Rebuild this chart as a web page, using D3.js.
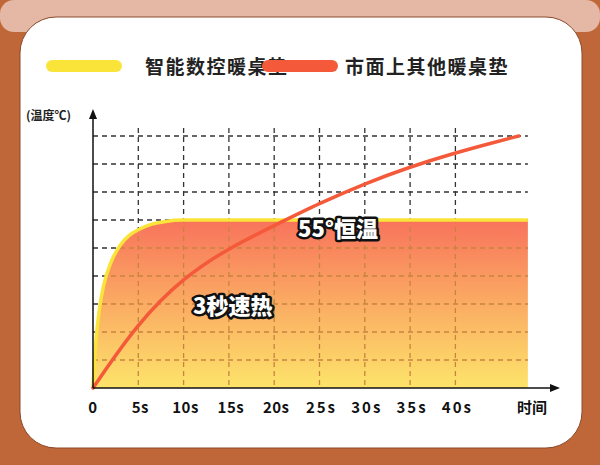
<!DOCTYPE html>
<html><head><meta charset="utf-8">
<script src="https://cdn.jsdelivr.net/npm/d3@7"></script>
<style>body{margin:0;background:#c0673a}svg{display:block}text{font-family:"Noto Sans CJK SC",sans-serif}</style>
</head><body><svg id="c" width="600" height="465"></svg>
<script>
const legendNames = ["智能数控暖桌垫", "市面上其他暖桌垫"];
const xTicks = [0, 5, 10, 15, 20, 25, 30, 35, 40];
const xTickLabels = ["0", "5s", "10s", "15s", "20s", "25s", "30s", "35s", "40s"];
const yGrid = [1, 2, 3, 4, 5, 6, 7, 8, 9];
// smart mat: fast rise to plateau
const smartT = [0, 0.3, 0.7, 1.2, 2, 3, 4, 5, 6.5, 8, 10, 48];
const smartV = [0, 1.6, 2.8, 3.7, 4.5, 5.1, 5.45, 5.65, 5.85, 5.95, 6, 6];
// other mats: slow rise
const otherT = [0, 5, 10, 15, 20, 25, 30, 35, 40, 44, 47];
const otherV = [0, 2.35, 3.95, 5.0, 5.8, 6.6, 7.3, 7.9, 8.4, 8.75, 9.0];

const svg = d3.select("#c");
const defs = svg.append("defs");

// background
svg.append("rect").attr("width", 600).attr("height", 465).attr("fill", "#c0673a");
svg.append("rect").attr("x", 0).attr("y", 0).attr("width", 600).attr("height", 32).attr("rx", 14).attr("fill", "#e5b8a5");
svg.append("rect").attr("x", 20).attr("y", 17).attr("width", 562).attr("height", 431).attr("rx", 36)
  .attr("fill", "#fff").attr("stroke", "#8a4a2a").attr("stroke-width", 1);

// legend
const colors = ["#fbe43a", "#f45a3a"];
[[52, 145], [268, 345]].forEach(([x0, tx], i) => {
  svg.append("line").attr("x1", x0).attr("x2", x0 + 64).attr("y1", 66).attr("y2", 66)
    .attr("stroke", colors[i]).attr("stroke-width", 12).attr("stroke-linecap", "round");
  svg.append("text").attr("x", tx).attr("y", 74).attr("font-size", 19).attr("font-weight", 700)
    .attr("fill", "#222").attr("letter-spacing", 1.5).text(legendNames[i]);
});

const x = d3.scaleLinear().domain([0, 5]).range([93, 138.3]);
const y = d3.scaleLinear().domain([0, 1]).range([388, 360]);
const gridTop = 128, plotRight = x(48);

const gradId = "fillGrad";
const g = defs.append("linearGradient").attr("id", gradId).attr("x1", 0).attr("y1", 0).attr("x2", 0).attr("y2", 1);
g.append("stop").attr("offset", "0%").attr("stop-color", "#f8735c");
g.append("stop").attr("offset", "100%").attr("stop-color", "#fde46a");

const smart = smartT.map((t, i) => [t, smartV[i]]);
const other = otherT.map((t, i) => [t, otherV[i]]);
const area = d3.area().x(d => x(d[0])).y0(y(0)).y1(d => y(d[1])).curve(d3.curveMonotoneX);
const line = d3.line().x(d => x(d[0])).y(d => y(d[1])).curve(d3.curveMonotoneX);
const line2 = d3.line().x(d => x(d[0])).y(d => y(d[1])).curve(d3.curveBasis);

defs.append("clipPath").attr("id", "ac").append("path").attr("d", area(smart));

function grid(sel, color) {
  xTicks.slice(1).forEach(t => sel.append("line").attr("x1", x(t)).attr("x2", x(t))
    .attr("y1", gridTop).attr("y2", y(0)).attr("stroke", color).attr("stroke-width", 1.3).attr("stroke-dasharray", "5,4"));
  yGrid.forEach(v => sel.append("line").attr("x1", x(0)).attr("x2", plotRight)
    .attr("y1", y(v)).attr("y2", y(v)).attr("stroke", color).attr("stroke-width", 1.3).attr("stroke-dasharray", "5,4"));
}
grid(svg.append("g"), "#333");
svg.append("path").attr("d", area(smart)).attr("fill", `url(#${gradId})`);
grid(svg.append("g").attr("clip-path", "url(#ac)"), "#c8843f");

svg.append("path").attr("d", line(smart)).attr("fill", "none").attr("stroke", colors[0]).attr("stroke-width", 3.5);
svg.append("path").attr("d", line2(other)).attr("fill", "none").attr("stroke", colors[1]).attr("stroke-width", 3.5).attr("stroke-linecap", "round");

// axes
svg.append("line").attr("x1", x(0)).attr("x2", 553).attr("y1", y(0)).attr("y2", y(0)).attr("stroke", "#111").attr("stroke-width", 1.5);
svg.append("path").attr("d", `M560,${y(0)} L550,${y(0) - 4} L550,${y(0) + 4}Z`).attr("fill", "#111");
svg.append("line").attr("x1", x(0)).attr("x2", x(0)).attr("y1", y(0)).attr("y2", 116).attr("stroke", "#111").attr("stroke-width", 1.5);
svg.append("path").attr("d", `M${x(0)},109 L${x(0) - 4},119 L${x(0) + 4},119Z`).attr("fill", "#111");
svg.append("text").attr("x", 26).attr("y", 120).attr("font-size", 12).attr("font-weight", 700).attr("fill", "#222").text("(温度℃)");

xTickLabels.forEach((s, i) => svg.append("text").attr("x", x(xTicks[i]) + (i ? 2 : 0)).attr("y", 413)
  .attr("text-anchor", "middle").attr("font-size", 15).attr("font-weight", 700).attr("fill", "#111")
  .attr("letter-spacing", i > 4 ? 2 : 0.5).text(s));
svg.append("text").attr("x", 532).attr("y", 413).attr("text-anchor", "middle").attr("font-size", 15)
  .attr("font-weight", 700).attr("fill", "#111").text("时间");

// annotations
function note(tx, ty, s) {
  svg.append("text").attr("x", tx).attr("y", ty).attr("font-size", 22).attr("font-weight", 900)
    .attr("fill", "#fff").attr("stroke", "#111").attr("stroke-width", 5).attr("stroke-linejoin", "round")
    .attr("paint-order", "stroke").text(s);
}
note(298, 237, "55°恒温");
note(193, 314, "3秒速热");
</script></body></html>
